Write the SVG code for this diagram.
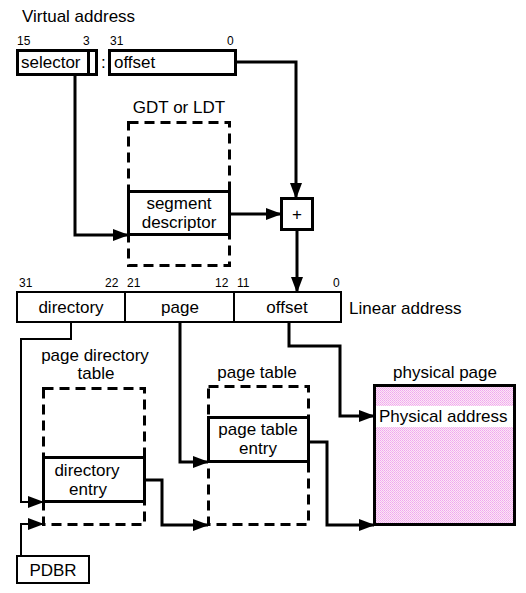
<svg xmlns="http://www.w3.org/2000/svg" width="526" height="593" viewBox="0 0 526 593">
<defs>
<marker id="ah" markerUnits="userSpaceOnUse" markerWidth="16" markerHeight="12" refX="15" refY="6" orient="auto">
<path d="M0,0 L16,6 L0,12 z" fill="#000"/>
</marker>
<pattern id="dots" width="2" height="2" patternUnits="userSpaceOnUse">
<rect width="2" height="2" fill="#fbe6f8"/>
<rect x="0" y="0" width="1" height="1" fill="#f0a8ee"/>
<rect x="1" y="1" width="1" height="1" fill="#f4b8ec"/>
</pattern>
</defs>
<style>
text{font-family:"Liberation Sans",Arial,sans-serif;fill:#000}
.t{font-size:17px}
.n{font-size:12px}
.box{fill:#fff;stroke:#000;stroke-width:3}
.thin{fill:#fff;stroke:#000;stroke-width:2}
.dash{fill:none;stroke:#000;stroke-width:3;stroke-dasharray:10,6}
.c{fill:none;stroke:#000;stroke-width:3;marker-end:url(#ah)}
.c2{fill:none;stroke:#000;stroke-width:2;marker-end:url(#ah)}
.m{text-anchor:middle}
</style>

<g id="virtual-address">
<text class="t" x="22" y="22">Virtual address</text>
<text class="n" x="17" y="45">15</text>
<text class="n" x="83" y="45">3</text>
<text class="n" x="110" y="45">31</text>
<text class="n" x="227" y="45">0</text>
<rect class="box" x="17.5" y="50.5" width="71" height="24"/>
<rect class="box" x="88.5" y="50.5" width="8" height="24"/>
<text class="t" x="21" y="68">selector</text>
<text class="t" x="101" y="68">:</text>
<rect class="box" x="109.5" y="50.5" width="126" height="24"/>
<text class="t" x="114" y="68">offset</text>
</g>

<g id="gdt">
<text class="t m" x="179" y="113">GDT or LDT</text>
<rect class="dash" x="128.5" y="122.5" width="101" height="143"/>
</g>

<g id="segment-descriptor">
<rect class="box" x="128.5" y="191.5" width="101" height="43"/>
<text class="t m" x="179" y="209">segment</text>
<text class="t m" x="179" y="228">descriptor</text>
</g>

<g id="adder">
<rect class="box" x="281.5" y="198.5" width="31" height="31"/>
<text class="t m" x="297" y="220">+</text>
</g>

<g id="linear-address">
<text class="n" x="19" y="287">31</text>
<text class="n" x="105" y="287">22</text>
<text class="n" x="127" y="287">21</text>
<text class="n" x="215" y="287">12</text>
<text class="n" x="237" y="287">11</text>
<text class="n" x="333" y="287">0</text>
<rect class="thin" x="17" y="292" width="324" height="30"/>
<line x1="125" y1="292" x2="125" y2="322" stroke="#000" stroke-width="2"/>
<line x1="234" y1="292" x2="234" y2="322" stroke="#000" stroke-width="2"/>
<text class="t m" x="71" y="313">directory</text>
<text class="t m" x="180" y="313">page</text>
<text class="t m" x="287" y="313">offset</text>
<text class="t" x="349" y="314">Linear address</text>
</g>

<g id="page-directory">
<text class="t m" x="95" y="361">page directory</text>
<text class="t m" x="96" y="379">table</text>
<rect class="dash" x="43.5" y="388.5" width="101" height="136"/>
</g>

<g id="directory-entry">
<rect class="box" x="43.5" y="457.5" width="101" height="44"/>
<text class="t m" x="87" y="476">directory</text>
<text class="t m" x="88" y="495">entry</text>
</g>

<g id="page-table">
<text class="t m" x="257" y="378">page table</text>
<rect class="dash" x="208.5" y="386.5" width="100" height="138"/>
</g>

<g id="page-table-entry">
<rect class="box" x="208.5" y="417.5" width="100" height="44"/>
<text class="t m" x="258" y="435">page table</text>
<text class="t m" x="258" y="454">entry</text>
</g>

<g id="physical-page">
<text class="t m" x="445" y="378">physical page</text>
<rect x="374.5" y="385.5" width="140" height="139" fill="url(#dots)" stroke="#000" stroke-width="3"/>
<rect x="376" y="406" width="137" height="21" fill="#fff"/>
<text class="t" x="379" y="422">Physical address</text>
</g>

<g id="pdbr">
<rect class="thin" x="17" y="556" width="72" height="27"/>
<text class="t m" x="53" y="576">PDBR</text>
</g>

<g id="connectors">
<path class="c" d="M236,62 H296 V198"/>
<path class="c" d="M75,75 V235 H128"/>
<path class="c" d="M230,214 H281"/>
<path class="c" d="M297,230 V292"/>
<path class="c2" d="M71,322 V339 H21 V502 H43"/>
<path class="c2" d="M21,556 V524 H43"/>
<path class="c" d="M145,480 H162 V525 H208"/>
<path class="c" d="M180,322 V462 H208"/>
<path class="c" d="M309,442 H327 V525 H374"/>
<path class="c" d="M289,322 V346 H340 V416 H374"/>
</g>
</svg>
